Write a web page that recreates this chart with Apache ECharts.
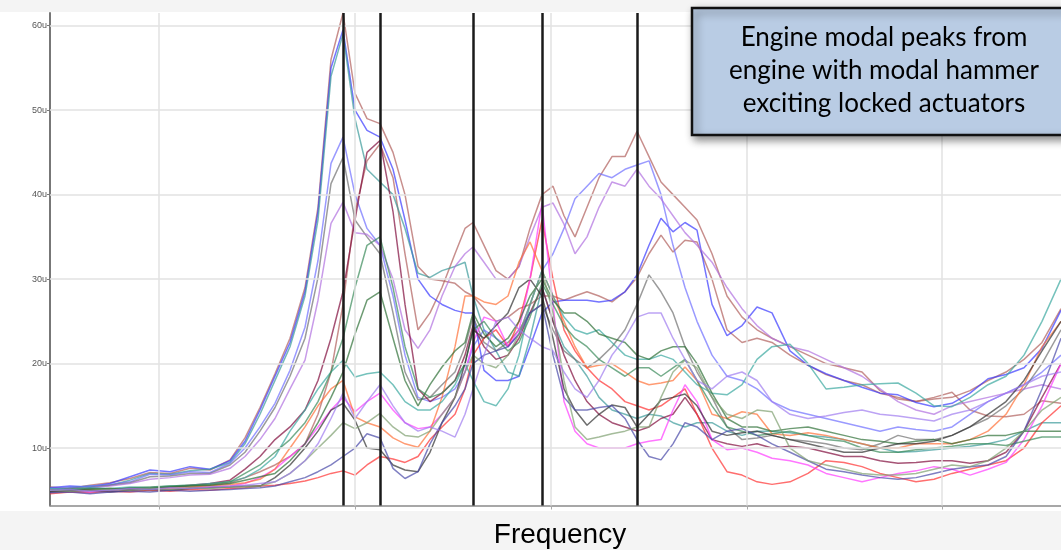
<!DOCTYPE html>
<html><head><meta charset="utf-8">
<script src="https://cdn.jsdelivr.net/npm/echarts@6/dist/echarts.min.js"></script>
<style>html,body{margin:0;padding:0;background:#fff}#c{width:1061px;height:550px}</style>
</head><body><div id="c"></div>
<script>
// frequency bins (arbitrary units, axis has no labels)
const freq = [0,20,40,60,80,100,120,140,160,180,195,210,225,240,255,268,281,293,305,317,330,343,355,368,380,392,405,415,423,434,446,458,469,480,492,503,514,525,537,549,562,575,587,599,611,623,635,647,662,677,692,707,722,740,758,776,794,812,830,848,866,884,902,920,938,956,974,992,1011];
const yTicks = [10,20,30,40,50,60];
const xGridTicks = [109,305,501,697,892];
const modalPeaks = [293,330,423,492,587];

const brownA = [5.4,5.2,5.6,5.9,6.4,7.1,7.0,7.6,7.4,8.6, 11.2,14.8,18.8,23,29,38.5,56,61.5,52,49, 48.4,45,40,31.5,30,29.8,29.5,28.5,28,26.5, 25,25.5,26.5,27,28,28,27.5,28,28.5,28, 27.3,28.5,30.2,33,35.2,33.2,34.6,34.4,30,24, 22.5,23,22.5,21,19.8,18.7,18,17.5,16.5,16, 15.5,16,16.6,14.5,13.8,13.7,14,15.6,15.3];
const brownB = [5.0,4.9,5.2,5.0,5.3,5.1,5.4,5.5,5.6,5.9, 6.5,7.2,8,9,10.5,14,19,27,38,44, 46,42,33,24,26,29,33,36,36.7,34, 31,30,31.5,36,40,41,37.5,35,38.5,42, 44.5,44.5,47.5,44.5,41.5,40,38.5,37,33,28, 25.5,24,23,22,21,20,19.5,19,16.8,15.8, 15.5,15.8,16,16.8,18,19,20.5,22.5,26.5];
const blueA = [5.3,5.5,5.4,5.8,6.6,7.4,7.2,7.8,7.5,8.5, 10.8,14.5,18.5,22.5,28.5,38,55,59.5,50,47.6, 46.8,43,37,30,28,27,26.3,26,26,19.2, 18,18,18.5,22,26,27.3,27.5,27.5,27.5,27.3, 27.5,28.5,30.5,34,37.2,35.6,36.7,35.8,27,23.3, 24.5,26.7,26,21.5,19.8,18.8,18,17.2,16.5,16.3, 15.4,14.9,15.3,16.5,18.2,18.7,19.5,21.8,26.3];
const tealA = [5.1,5.3,5.5,5.6,6.2,7.0,6.9,7.3,7.5,8.3, 10.5,14,18,22,28,37,54,59,49,43, 41.5,40,36,30.7,30.2,31,31.5,32,28,24, 21.5,19,18.5,23,29,25,22,20.5,18.5,16, 14.5,14,13.5,14,13.8,13,12.5,13,13,12, 11.5,12,12,11.8,11.5,11.3,11,10.5,10,9.5, 9.6,9.8,10,10.2,10.5,11,12,13,13];
const lightBlue = [5.2,5.3,5.5,5.7,6.0,6.9,6.8,7.2,7.1,8.2, 10,12.5,15.3,19.2,24.3,32.2,43.7,46.8,40,36, 34,28,21,16,15.5,16,17,19,22,24, 23,22,23.5,27,31,33,36,39.5,41,42.5, 42,43,43.5,44,40,34,29,25,21,18.5, 18,17,15.5,14.5,14,13.5,13,12.5,12,12.5, 12.2,12,12.5,14,15.5,16.5,17.5,19,21];
const gray = [5.0,5.2,5.3,5.6,5.9,6.6,6.7,7.0,7.0,8.0, 9.5,12,14.8,18.5,23,30.2,41.3,44.4,37,35, 33,26,19,15.7,16,17.5,19,22,25.5,22.5, 21.5,22.5,24,26,27,24,21.5,20.5,19.5,20.5, 22,24,27,30.5,28.5,26,22,19,16,12.5, 11,11.2,11.5,11,10.8,10.5,10,9.8,10.5,11.5, 11,11,11.5,12.5,13.5,15,17,20,24];
const purpleA = [5.1,5.0,5.3,5.5,5.8,6.3,6.5,6.8,6.9,7.6, 9,11,13.5,17,20.4,27.5,36.6,39.1,35.5,35.3, 34,30,24,21.8,24,28,31.5,33,33.8,32, 30,30,31.5,35,38.5,39,36.5,33,35,38.5, 41.5,41,43,41,39.5,37.5,35.5,34,32,29, 26.5,24.5,23,22,21.5,20.5,19.5,18.5,17,15.5, 14.5,14,15,15.5,16,16.5,17,17.5,17];
const maroon = [4.8,5.0,5.1,5.0,5.2,5.3,5.4,5.6,5.8,6.2, 7.5,9,11,12.5,14.5,18,23,28.5,37,45, 46.4,38,27,17,15.5,16.5,18,21,24.5,22, 20.5,21,23,26,29,25,21,18,15.5,14, 13,12.5,12,12.5,13.5,14,16,14,11,10.5, 10.2,10.5,10,10.2,10,9.5,9,9,8.5,8.2, 8.3,8.5,8.5,8.2,8.5,9.5,12,16,20];
const red = [4.6,4.8,4.7,4.9,4.8,5.0,4.9,5.1,5.0,5.2, 5.3,5.5,5.6,5.8,6.1,6.5,7.0,7.3,6.8,8, 9,8.7,8.3,9,11,12.5,14,17,21,23, 24,22,25,30,37,30,24,21.5,19.5,18, 17,15.5,15,14.5,15,16,17,14,10,7.2, 6.8,6,5.7,6,7,8.5,8.3,7.8,7,6.5, 6,6.3,7,7.5,8,8.5,10,13,15];
const magenta = [4.9,5.0,4.8,5.1,5.0,5.2,5.1,5.3,5.4,5.5, 5.8,6.5,7.5,9,10.5,12.5,14.5,16,14.3,15.5, 16.5,14.5,13,12.3,12.5,14,16,19,22.5,25.5, 25,22,24,30,39,27,15.5,12,10.5,10, 10,10,10.5,10.8,11,14.5,17.5,15.5,11,9.8, 10,9.5,8.8,8.5,8,7,6.5,6,6.5,7, 7.3,7.8,7.5,6.8,7.5,8.3,11,15,20];
const orange = [5.0,4.9,5.1,5.2,5.0,5.3,5.2,5.4,5.5,5.7, 5.9,6.3,7.5,10,12.5,15,17,18,13.7,13, 12.5,11.2,10.5,10.1,12,16,22,28,28,27.3, 27,28,32,34.4,31,28,25,22,19.5,19.8, 20,19,18,17.5,17.7,18,19.6,18,14,13.5, 14.3,14,11.7,11.5,11.8,11.5,11,10.5,10,10, 10.5,10.5,10.5,11,12,14,17.5,22,25];
const tealB = [5.2,5.1,5.3,5.2,5.4,5.3,5.5,5.6,5.8,6.0, 6.5,7.5,9,12,14.5,17,19,20.4,18.4,18.8, 19,17.5,15.5,14.5,14.5,15.5,17.5,20,18,15.5, 15,17,21,27,31,28,25.5,24,23.5,24, 22.5,21,20.5,20.5,21,20.5,19,17.5,16.5,16.3, 17.5,20.5,22,22.3,20,17,17.2,17.5,17.6,17.7, 16.5,15,14.9,16,17.5,18.5,21,25,30];
const greenA = [5.0,5.1,5.2,5.0,5.3,5.4,5.5,5.6,5.7,6.0, 7,8,9.5,11,13,15.5,19,23,29,34, 35,29,22,17,16,16.5,18,20,24,25, 23,21.5,22.5,25.5,29.5,27,24.5,23,22,20.5, 19.5,18.5,19.5,19.5,18.5,19.5,20.5,18,15,12.5, 12,11.5,11.7,12,11.5,11,10.8,10,9.5,9.5, 9.8,10,10.2,10.5,10.5,10.3,10.8,11.3,11.3];
const greenB = [4.9,5.0,5.1,5.2,5.1,5.2,5.4,5.5,5.6,5.8, 6.2,6.6,7,8.5,10.5,13,16,19,23.5,27.5, 28.5,23,18,15,17.5,19.6,21.5,22.5,26,23.5, 22,23,25,28,30,27.5,26,26,25,23.5, 23,22.5,21,20.5,21.5,22,22,20,16.5,13.5, 12.5,12.5,12,12.3,12.5,12,11.5,11,10.8,10.5, 10.8,11,10.5,11,11.5,11.5,12,12,12];
const black = [4.8,4.9,5.0,4.8,5.0,5.1,5.0,5.2,5.3,5.4, 5.5,5.5,6.5,8,10,12,14.5,15.3,13.3,10, 9.8,8,7.4,7.2,9.5,13,16,20,24,23, 24.5,26,29,30,28,23,17,14.5,12.7,14, 15.1,14.8,12.5,14,15.7,16,16.4,15,12,11.5, 11.8,12,11.5,11,10.5,10,9.5,9.5,10,10.5, 10.5,10.8,11.5,12.5,14,15.5,18,21.5,25];
const navy = [4.7,4.8,4.6,4.8,4.9,4.8,5.0,4.9,5.0,5.1, 5.2,5.3,5.5,6,6.5,7.2,8,9,10,11.7, 11.2,7.6,6.4,7.2,10.5,13,15,17,20,21, 21.5,22,23.5,26,27,21,16,14.5,14.5,14.8, 15,13.5,11,9,8.6,10.5,13,12.5,11,12, 12.3,11.5,10.5,9.5,8.5,7.5,7.2,6.8,6.5,6.3, 6.5,7,7.5,7.8,8,9,12,17,23];
const olive = [5.0,4.9,5.0,5.1,5.0,5.2,5.1,5.3,5.2,5.4, 5.4,5.5,6,7,8.5,10,11.5,13,12.3,13, 14.1,12.5,11.5,11.3,12,14,16,19,21,20, 19.5,21,23.5,27,31,26,18,12.5,11,11.3, 11.7,12,12.5,12.5,16,19,20.4,19.5,16,14, 13.5,14.5,14.3,10,8.5,8,7.5,7,6.8,6.8, 7,7.5,8,7.8,8.5,10,12,14.5,16];
const violet = [5.0,5.1,4.9,5.0,5.2,5.1,5.3,5.2,5.4,5.5, 5.6,5.8,6,7,8.5,10.5,13.5,16.5,13.5,15.5, 17.5,15,13,12,12.5,12,11.3,14,17,21, 25,25.5,24,23,22,21.5,19,17,16,18, 21,23,25.5,26,26,23,20.5,18,17,18.5, 19,18,15.5,14,13.5,13.8,14.2,14.5,14,13.8, 13.5,13.2,14,14.5,15.5,16.5,17.5,18.5,19];

const seriesList = [
  ['brownA', brownA, '#b0605c'], ['brownB', brownB, '#b0605c'], ['blueA', blueA, '#3a3aff'],
  ['tealA', tealA, '#3a9a9a'], ['lightBlue', lightBlue, '#6f6fff'], ['gray', gray, '#707070'],
  ['purpleA', purpleA, '#b070e0'], ['maroon', maroon, '#800c3c'], ['red', red, '#ff3030'],
  ['magenta', magenta, '#ff3cff'], ['orange', orange, '#ff7038'], ['tealB', tealB, '#3aa8a0'],
  ['greenA', greenA, '#3a8a5a'], ['greenB', greenB, '#2f7038'], ['black', black, '#303030'],
  ['navy', navy, '#4848a8'], ['olive', olive, '#7f9f70'], ['violet', violet, '#a07cf0']
];

const chart = echarts.init(document.getElementById('c'), null, {renderer: 'canvas'});
const series = seriesList.map(([name, vals, color]) => ({
  name, type: 'line', symbol: 'none', smooth: false, animation: false, z: 3,
  data: freq.map((f, i) => [f, vals[i]]),
  lineStyle: {color, width: 1.5, opacity: 0.7}
}));
series.push({
  name: 'grid', type: 'line', data: [], z: 1, animation: false, silent: true,
  markLine: {symbol: 'none', silent: true, animation: false, label: {show: false},
    lineStyle: {color: '#e2e2e2', width: 1.5, type: 'solid'},
    data: xGridTicks.map(v => ({xAxis: v})).concat(yTicks.map(v => ({yAxis: v})))}
});
series.push({
  name: 'peaks', type: 'line', data: [], z: 10, animation: false, silent: true,
  markLine: {symbol: 'none', silent: true, animation: false, label: {show: false},
    lineStyle: {color: '#1a1a1a', width: 2.5, type: 'solid', opacity: 1},
    data: modalPeaks.map(v => ({xAxis: v}))}
});

chart.setOption({
  backgroundColor: '#ffffff',
  animation: false,
  grid: {left: 50, right: 0, top: 13, bottom: 44.5, containLabel: false},
  xAxis: {type: 'value', min: 0, max: 1011,
    axisLine: {show: true, onZero: false, lineStyle: {color: '#8a8a8a', width: 1.5}},
    axisTick: {show: true, customValues: xGridTicks, length: 4, lineStyle: {color: '#aaaaaa'}},
    axisLabel: {show: false}, splitLine: {show: false}},
  yAxis: {type: 'value', min: 3.2, max: 61.5,
    axisLine: {show: true, lineStyle: {color: '#777', width: 2}},
    axisTick: {show: true, customValues: yTicks, length: 3, lineStyle: {color: '#777'}},
    axisLabel: {show: true, customValues: yTicks, formatter: v => v + 'u', fontSize: 9, color: '#555', margin: 3, fontFamily: 'Liberation Sans'},
    splitLine: {show: false}},
  series,
  graphic: [
    {type: 'rect', left: 0, top: 0, shape: {width: 1061, height: 12}, style: {fill: '#f4f4f4'}, z: 100},
    {type: 'rect', left: 0, top: 511, shape: {width: 1061, height: 39}, style: {fill: '#f4f4f4'}, z: 100},
    {type: 'text', x: 560, y: 535, z: 101, style: {text: 'Frequency', fill: '#000', font: '28px "Liberation Sans", Arial, sans-serif', textAlign: 'center', textVerticalAlign: 'middle'}},
    {type: 'rect', x: 692, y: 8, z: 102, shape: {width: 390, height: 127},
      style: {fill: '#b9cce4', stroke: '#111', lineWidth: 2.5, shadowBlur: 8, shadowOffsetX: 3, shadowOffsetY: 4, shadowColor: 'rgba(0,0,0,0.45)'}},
    {type: 'text', x: 884, y: 38, z: 103, style: {text: 'Engine modal peaks from', fill: '#000', font: '26px Lato, "Open Sans", sans-serif', textAlign: 'center', textVerticalAlign: 'middle'}},
    {type: 'text', x: 884, y: 71, z: 103, style: {text: 'engine with modal hammer', fill: '#000', font: '26px Lato, "Open Sans", sans-serif', textAlign: 'center', textVerticalAlign: 'middle'}},
    {type: 'text', x: 884, y: 104, z: 103, style: {text: 'exciting locked actuators', fill: '#000', font: '26px Lato, "Open Sans", sans-serif', textAlign: 'center', textVerticalAlign: 'middle'}}
  ]
});
</script></body></html>
